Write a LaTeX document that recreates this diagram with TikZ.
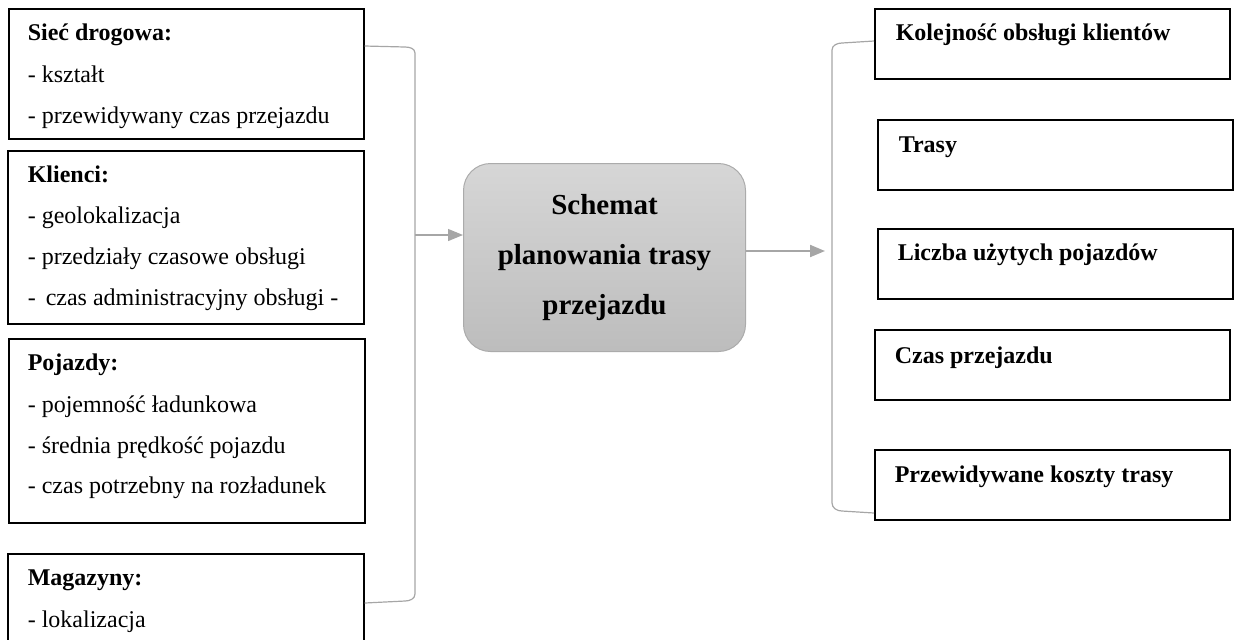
\documentclass[tikz,border=0pt]{standalone}
\usepackage{fontspec}
\setmainfont{Liberation Serif}
\usetikzlibrary{arrows.meta,positioning}

\begin{document}
\begin{tikzpicture}[x=0.5pt, y=-0.5pt, line width=0.8pt, >={Triangle[length=7.5pt,width=6pt]},
   box/.style={draw, rectangle, anchor=north west, minimum width=177.5pt, inner sep=0pt},
   txt/.style={anchor=base west, inner sep=0pt, font=\fontsize{12}{14}\selectfont},
   hd/.style={anchor=base west, inner sep=0pt, font=\fontsize{12}{14}\selectfont\bfseries},
   bracket/.style={draw=black!35, line width=0.6pt},
   flow/.style={->, draw=black!35, fill=black!35, line width=0.6pt}]
   	 \useasboundingbox (0,0) rectangle (1235,639);
   	 \clip (0,0) rectangle (1235,639);
   	 % wejscie
   	 \node[box, minimum height=65pt] (siec) at (8,8) {};
   	 \node[hd] (siec0) at (27,40) {Sieć drogowa:};
   	 \node[txt] (siec1) at (27,82) {- kształt};
   	 \node[txt] (siec2) at (27,123) {- przewidywany czas przejazdu};
   	 \node[box, minimum width=178pt, minimum height=86.5pt] (klienci) at (7,150) {};
   	 \node[hd] (klienci0) at (27,182) {Klienci:};
   	 \node[txt] (klienci1) at (27,223) {- geolokalizacja};
   	 \node[txt] (klienci2) at (27,264) {- przedziały czasowe obsługi};
   	 \node[txt] (klienci3) at (27,305) {- \,czas administracyjny obsługi -};
   	 \node[box, minimum width=178pt, minimum height=92pt] (pojazdy) at (8,338) {};
   	 \node[hd] (pojazdy0) at (27,370) {Pojazdy:};
   	 \node[txt] (pojazdy1) at (27,412) {- pojemność ładunkowa};
   	 \node[txt] (pojazdy2) at (27,453) {- średnia prędkość pojazdu};
   	 \node[txt] (pojazdy3) at (27,493) {- czas potrzebny na rozładunek};
   	 \node[box, minimum width=178pt, minimum height=73.5pt] (magazyny) at (7,553) {};
   	 \node[hd] (magazyny0) at (27,585) {Magazyny:};
   	 \node[txt] (magazyny1) at (27,627) {- lokalizacja};
   	 % schemat
   	 \node[draw=black!33, line width=0.5pt, rounded corners=13.5pt, top color=black!16, bottom color=black!26,
   	       anchor=north west, minimum width=141pt, minimum height=94pt, align=center,
   	       font=\fontsize{14.5}{25}\selectfont\bfseries] (schemat) at (463,163)
   	       {Schemat\\planowania trasy\\przejazdu};
   	 % wyjscie
   	 \node[box, minimum height=35pt] (kolejnosc) at (874,8) {};
   	 \node[hd] (kolejnosc0) at (895,40) {Kolejność obsługi klientów};
   	 \node[box, minimum height=35pt] (trasy) at (877,119) {};
   	 \node[hd] (trasy0) at (898,152) {Trasy};
   	 \node[box, minimum height=35pt] (liczba) at (877,228) {};
   	 \node[hd] (liczba0) at (897,260) {Liczba użytych pojazdów};
   	 \node[box, minimum height=35pt] (czas) at (874,329) {};
   	 \node[hd] (czas0) at (894,363) {Czas przejazdu};
   	 \node[box, minimum height=35pt] (koszty) at (874,449) {};
   	 \node[hd] (koszty0) at (894,482) {Przewidywane koszty trasy};
   	 % klamry
   	 \coordinate (lg) at (siec.east |- 0,46);
   	 \coordinate (ld) at (magazyny.east |- 0,603);
   	 \coordinate (wej) at (415,235);
   	 \draw[bracket] (lg) -- (405,47) to[out=0,in=90] (415,53) -- (415,594) to[out=-90,in=0] (405,601) -- (ld);
   	 \coordinate (pg) at (kolejnosc.west |- 0,41);
   	 \coordinate (pd) at (koszty.west |- 0,513);
   	 \coordinate (wyj) at (825,251);
   	 \draw[bracket] (pg) -- (842,43) to[out=180,in=90] (832,50) -- (832,503) to[out=-90,in=180] (842,511) -- (pd);
   	 % strzalki
   	 \draw[flow] (wej) -- (wej -| schemat.west);
   	 \draw[flow, line width=1pt] (schemat.east |- wyj) -- (wyj);
\end{tikzpicture}
\end{document}
